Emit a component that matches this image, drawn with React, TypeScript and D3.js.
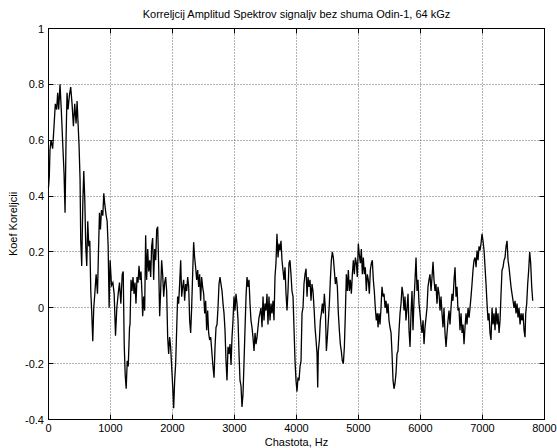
import React, { useEffect, useRef } from "react";
import * as d3 from "d3";

// frequency (Hz) and correlation coefficient
const freq = [
  0, 13, 24, 40, 67, 89, 110, 132, 148, 164, 186, 208, 229, 251, 267, 283, 299, 315, 337, 358,
  380, 402, 423, 445, 461, 477, 493, 509, 520, 536, 553, 569, 585, 601, 617, 633, 650, 666, 682, 698,
  714, 730, 747, 768, 790, 806, 822, 838, 854, 876, 892, 908, 930, 946, 962, 978, 994, 1016, 1038, 1059,
  1081, 1102, 1124, 1145, 1167, 1189, 1205, 1221, 1237, 1253, 1270, 1286, 1307,
  1315, 1331, 1347, 1363, 1379, 1395, 1411, 1428, 1444, 1460, 1476, 1492, 1508, 1519, 1535, 1551, 1567, 1583, 1600, 1616,
  1632, 1648, 1664, 1680, 1696, 1712, 1729, 1745, 1761, 1777, 1793, 1809, 1825, 1841, 1858, 1874, 1890, 1906, 1922, 1938,
  1954, 1970, 1986, 2003, 2019, 2035, 2051, 2067, 2083, 2099, 2115, 2132, 2148, 2164, 2180, 2196, 2212, 2229, 2245, 2261,
  2277, 2293, 2309, 2325, 2341, 2357, 2373, 2390, 2406, 2422, 2438, 2454, 2470, 2486, 2503, 2519, 2535, 2551, 2567, 2583,
  2599, 2616,
  2653, 2670, 2686, 2702, 2718, 2734, 2750, 2766, 2782, 2799, 2815, 2831, 2847, 2863, 2879, 2895, 2911, 2928, 2944, 2960,
  2976, 2992, 3008, 3024, 3040, 3057, 3073, 3089, 3105, 3121, 3137, 3153, 3169, 3186, 3202, 3218, 3234, 3250, 3266, 3282,
  3298, 3315, 3331, 3347, 3363, 3379, 3395, 3411, 3427, 3444, 3460, 3476, 3492, 3508, 3524, 3540, 3556, 3573, 3589, 3605,
  3621, 3637, 3653, 3669, 3685, 3702, 3718, 3734, 3750, 3766, 3782, 3798, 3815, 3831, 3847, 3863, 3879, 3895, 3911, 3927,
  3944,
  3976, 3992, 4008, 4024, 4041, 4057, 4073, 4089, 4105, 4121, 4137, 4154, 4170, 4186, 4202, 4218, 4234, 4250, 4266, 4283,
  4299, 4315, 4331, 4342, 4352, 4369, 4385, 4401, 4417, 4433, 4449, 4465, 4482, 4498, 4514, 4530, 4546, 4562, 4578, 4594,
  4610, 4627, 4643, 4659, 4675, 4691, 4707, 4723, 4739, 4756, 4772, 4788, 4804, 4820, 4836, 4852, 4868, 4885, 4901, 4917,
  4933, 4949, 4965, 4981, 4997, 5013, 5030, 5046, 5062, 5078, 5094, 5110, 5126, 5142, 5158, 5175, 5191, 5207, 5223, 5239,
  5255, 5271, 5287, 5304,
  5315, 5331, 5347, 5363, 5379, 5396, 5412, 5428, 5444, 5460, 5476, 5492, 5508, 5525, 5541, 5557, 5573, 5589, 5605, 5621,
  5637, 5654, 5670, 5686, 5702, 5718, 5734, 5750, 5766, 5783, 5799, 5815, 5831, 5847, 5863, 5879, 5895, 5912, 5928, 5944,
  5960, 5976, 5992, 6008, 6024, 6041, 6057, 6073, 6089, 6105, 6121, 6137, 6153, 6170, 6186, 6202, 6218, 6234, 6250, 6266,
  6282, 6299, 6315, 6331, 6347, 6363, 6379, 6395, 6412, 6428, 6444, 6460, 6476, 6492, 6508, 6524, 6541, 6557, 6573, 6589,
  6605,
  6621, 6637, 6654, 6670, 6686, 6702, 6718, 6734, 6750, 6767, 6783, 6799, 6815, 6831, 6847, 6863, 6880, 6896, 6912, 6928,
  6944, 6960, 6976, 6992, 7008, 7025, 7041, 7057, 7073, 7089, 7105, 7121, 7137, 7154, 7170, 7186, 7202, 7218, 7234, 7250,
  7267, 7283, 7299, 7315, 7331, 7347, 7363, 7380, 7396, 7412, 7428, 7444, 7460, 7476, 7493, 7509, 7525, 7541, 7557, 7573,
  7589, 7606, 7622, 7638, 7654, 7670, 7686, 7697, 7713, 7729, 7745, 7761, 7777, 7794, 7810,
];

const koef = [
  0.43, 0.47, 0.565, 0.6, 0.57, 0.65, 0.73, 0.71, 0.77, 0.71, 0.8, 0.7, 0.59, 0.48, 0.34, 0.6, 0.77, 0.71, 0.76, 0.79,
  0.73, 0.65, 0.73, 0.66, 0.74, 0.66, 0.58, 0.46, 0.24, 0.15, 0.37, 0.49, 0.39, 0.22, 0.15, 0.31, 0.22, 0.24, 0.06, -0.02,
  -0.12, 0, 0.05, 0.12, 0.05, 0.2, 0.34, 0.28, 0.35, 0.33, 0.41, 0.37, 0.33, 0.31, 0.22, 0, 0.17, 0.08, 0.09, 0.05,
  -0.1, 0, 0.05, 0.09, 0.015, 0.12, 0.13, -0.13, -0.24, -0.29, -0.19, -0.21, -0.07,
  -0.06, 0.1, 0.06, 0.11, 0.05, 0.09, 0.015, 0.11, 0.09, 0.15, 0.1, 0.13, 0.05, -0.03, 0.04, -0.01, 0.26, 0.1, 0.21, 0.13,
  0.17, 0.11, 0.22, 0.25, 0.1, 0.21, 0.17, 0.28, 0.29, 0.15, -0.03, 0.06, 0.17, 0.12, 0.04, 0.09, 0.11, 0.06, -0.105, -0.165,
  -0.105, -0.14, -0.21, -0.28, -0.36, -0.26, -0.2, -0.08, 0.04, 0.015, 0.085, 0.17, 0.04, 0.075, 0.1, 0.025, 0.085, 0.06, 0.11, 0.075,
  -0.045, -0.09, 0, 0.12, 0.235, 0.18, 0.145, 0.1, 0.135, 0.075, 0.12, 0.025, 0.11, 0.075, 0.05, -0.02, 0.025, -0.08, -0.01, -0.09,
  -0.115, -0.105,
  -0.21, -0.25, -0.14, -0.07, -0.06, 0, 0.085, 0.11, 0.085, 0.06, 0.015, -0.02, -0.08, -0.19, -0.26, -0.14, -0.165, -0.13, -0.205, -0.105,
  -0.045, 0.04, -0.01, 0.05, 0.015, -0.045, -0.165, -0.26, -0.28, -0.355, -0.31, -0.2, -0.08, 0.04, 0.11, 0.075, 0.1, 0.015, -0.045, -0.07,
  -0.105, -0.155, -0.09, -0.13, -0.105, -0.07, -0.035, -0.02, 0, -0.07, 0.04, -0.045, 0.015, -0.01, 0.05, -0.06, 0.04, -0.045, 0.015, -0.02,
  0.025, -0.045, 0.11, 0.16, 0.265, 0.18, 0.23, 0.205, 0.24, 0.17, 0.135, 0.1, 0.145, 0.05, -0.01, 0.06, 0.16, 0.17, 0.12, 0.06,
  0.04,
  -0.19, -0.26, -0.3, -0.25, -0.26, -0.21, -0.19, -0.02, 0, 0.085, 0.12, 0.14, 0.04, 0.11, 0.075, 0.1, 0.025, 0.085, 0.06, 0,
  -0.07, -0.115, -0.165, -0.285, -0.155, -0.115, -0.045, -0.02, 0.015, -0.02, 0.05, 0, -0.155, -0.105, -0.045, 0.015, 0.1, 0.17, 0.2, 0.18,
  0.135, 0.085, 0.11, 0.075, -0.02, -0.08, -0.13, -0.155, -0.19, -0.2, -0.14, -0.02, 0.12, 0.06, 0.135, 0.06, 0.1, 0.05, 0.12, 0.17,
  0.12, 0.18, 0.16, 0.11, 0.23, 0.19, 0.16, 0.21, 0.12, 0.18, 0.12, 0.145, 0.06, 0.12, 0.1, 0.05, 0.135, 0.16, 0.17, 0.1,
  0.06, 0, -0.045, -0.02,
  -0.07, -0.02, -0.06, 0, 0.075, 0.04, 0.05, 0, 0.025, -0.02, 0.015, -0.045, -0.07, -0.09, -0.165, -0.26, -0.29, -0.27, -0.235, -0.165,
  -0.155, -0.08, -0.02, 0.015, 0.075, 0.05, -0.01, 0.04, -0.045, 0, 0.05, -0.08, -0.14, -0.02, 0.06, -0.08, 0.025, 0.1, 0.18, 0.06,
  0.1, 0.015, -0.02, -0.06, -0.09, -0.045, -0.13, -0.07, -0.035, 0, 0.075, 0.1, 0.12, 0.06, 0.11, 0.165, 0.1, 0.06, 0.085, 0.015,
  0.075, 0.05, -0.01, 0.04, -0.02, -0.07, 0, -0.09, -0.14, -0.09, -0.045, -0.01, -0.06, 0, 0.05, 0.025, 0.1, 0.145, 0.04, 0.075,
  -0.01,
  0, -0.08, -0.02, -0.09, -0.06, -0.13, -0.07, -0.02, -0.06, 0, -0.035, 0, 0.04, 0.085, 0.135, 0.17, 0.18, 0.145, 0.205, 0.17,
  0.22, 0.205, 0.23, 0.265, 0.24, 0.205, 0.145, 0.085, 0.015, -0.045, -0.02, -0.09, -0.115, 0, -0.06, -0.02, -0.08, 0, -0.06, -0.02,
  -0.09, -0.045, 0.05, 0.135, 0.145, 0.17, 0.18, 0.22, 0.24, 0.17, 0.145, 0.11, 0.075, 0.05, 0.025, 0, 0.025, -0.02, 0.015, -0.035,
  0, -0.06, -0.02, -0.045, -0.02, -0.08, -0.105, -0.02, 0.015, 0.085, 0.135, 0.2, 0.16, 0.075, 0.025,
];

const xTicks = [0, 1000, 2000, 3000, 4000, 5000, 6000, 7000, 8000];
const yTicks = [-0.4, -0.2, 0, 0.2, 0.4, 0.6, 0.8, 1];

const title = "Korreljcij Amplitud Spektrov signaljv bez  shuma Odin-1, 64 kGz";
const xLabel = "Chastota, Hz";
const yLabel = "Koef Koreljcii";

const App = () => {
  const svgRef = useRef<SVGSVGElement>(null);

  useEffect(() => {
    const w = 557;
    const h = 448;
    const left = 48.5;
    const right = 544.5;
    const top = 28.5;
    const bottom = 419.5;
    const font = "'Liberation Sans', Arial, sans-serif";

    const svg = d3
      .select(svgRef.current)
      .attr("width", w)
      .attr("height", h)
      .style("background", "#fff");
    svg.selectAll("*").remove();

    const x = d3.scaleLinear().domain([0, 8000]).range([left, right]);
    const y = d3.scaleLinear().domain([-0.4, 1]).range([bottom, top]);
    const px = (v: number) => Math.round(x(v) - 0.5) + 0.5;
    const py = (v: number) => Math.round(y(v) - 0.5) + 0.5;

    // dotted grid
    const grid = svg.append("g").attr("stroke", "#666").attr("stroke-dasharray", "1,2");
    grid
      .selectAll("line.gx")
      .data(xTicks.slice(1, -1))
      .join("line")
      .attr("x1", px)
      .attr("x2", px)
      .attr("y1", top)
      .attr("y2", bottom);
    grid
      .selectAll("line.gy")
      .data(yTicks.slice(1, -1))
      .join("line")
      .attr("x1", left)
      .attr("x2", right)
      .attr("y1", py)
      .attr("y2", py);

    // signal
    const pts = freq.map((f, i) => [f, koef[i]] as [number, number]);
    const line = d3
      .line<[number, number]>()
      .x((d) => x(d[0]))
      .y((d) => y(d[1]));
    svg
      .append("path")
      .datum(pts)
      .attr("d", line)
      .attr("fill", "none")
      .attr("stroke", "#000")
      .attr("stroke-width", 1.3)
      .attr("stroke-linejoin", "miter");

    // box + inward ticks
    const axes = svg.append("g").attr("stroke", "#000").attr("stroke-width", 1).attr("fill", "none");
    axes.append("rect").attr("x", left).attr("y", top).attr("width", right - left).attr("height", bottom - top);
    const tl = 5;
    xTicks.forEach((t) => {
      axes.append("line").attr("x1", px(t)).attr("x2", px(t)).attr("y1", bottom).attr("y2", bottom - tl);
      axes.append("line").attr("x1", px(t)).attr("x2", px(t)).attr("y1", top).attr("y2", top + tl);
    });
    yTicks.forEach((t) => {
      axes.append("line").attr("x1", left).attr("x2", left + tl).attr("y1", py(t)).attr("y2", py(t));
      axes.append("line").attr("x1", right).attr("x2", right - tl).attr("y1", py(t)).attr("y2", py(t));
    });

    // tick labels
    const txt = svg.append("g").attr("font-family", font).attr("font-size", 11).attr("fill", "#000");
    txt
      .selectAll("text.xt")
      .data(xTicks)
      .join("text")
      .attr("x", (d) => x(d))
      .attr("y", 432)
      .attr("text-anchor", "middle")
      .text((d) => String(d));
    txt
      .selectAll("text.yt")
      .data(yTicks)
      .join("text")
      .attr("x", 44)
      .attr("y", (d) => y(d) + 4)
      .attr("text-anchor", "end")
      .text((d) => String(d));

    txt.append("text").attr("x", (left + right) / 2).attr("y", 18).attr("text-anchor", "middle").text(title);
    txt.append("text").attr("x", (left + right) / 2).attr("y", 446).attr("text-anchor", "middle").text(xLabel);
    txt
      .append("text")
      .attr("transform", `translate(17,${(top + bottom) / 2}) rotate(-90)`)
      .attr("text-anchor", "middle")
      .text(yLabel);
  }, []);

  return <svg ref={svgRef} style={{ position: "absolute", left: 0, top: 0 }}></svg>;
};

export default App;
